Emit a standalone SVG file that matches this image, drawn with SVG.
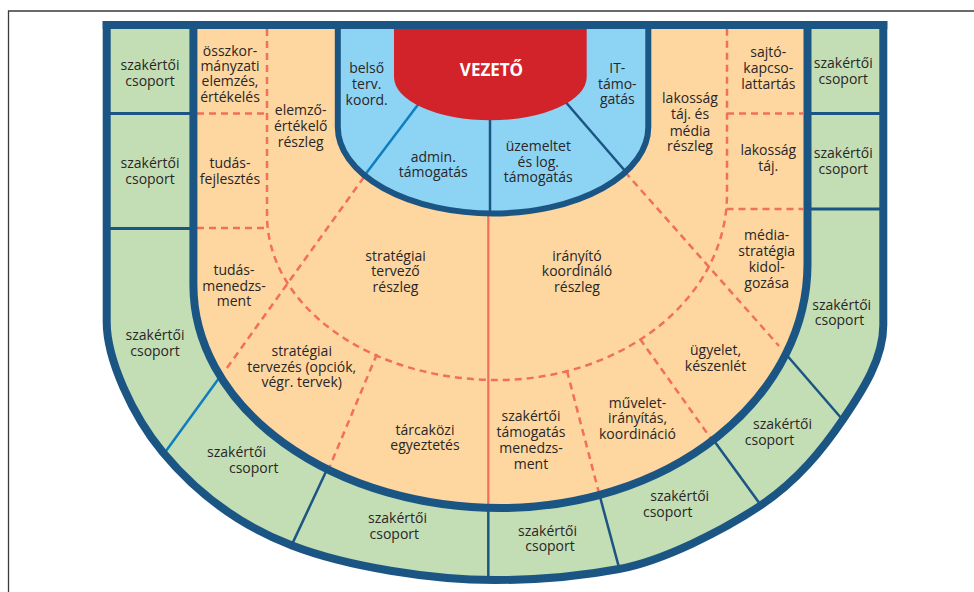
<svg xmlns="http://www.w3.org/2000/svg" width="974" height="592" viewBox="0 0 974 592">
<style>
.t{font-family:"Open Sans","Liberation Sans",sans-serif;font-size:14px;fill:#2a2627;text-anchor:middle}
.w{font-family:"Open Sans","Liberation Sans",sans-serif;font-size:17px;font-weight:700;fill:#ffffff;text-anchor:middle}
.dash{fill:none;stroke:#f26f5b;stroke-width:2.5;stroke-dasharray:7 5}
.solid{fill:none;stroke:#f26f5b;stroke-width:2.2}
.div{fill:none;stroke:#1b5584;stroke-width:2.5}
.hdiv{fill:none;stroke:#1b5584;stroke-width:3}
.ldiv{fill:none;stroke:#0e7dc2;stroke-width:2.5}
.band{fill:none;stroke:#1b5584}
</style>
<defs>
  <path id="outer" d="M106.7,25 H883.3 V325 C883.3,358 863.8,388.9 843.3,419 C822.8,449.1 797.9,480.5 760.5,505.5 C723.1,530.5 663.25,560.7 619,569 C574.75,577.3 536.3,580 495,580 C431.7,580 347.3,566.75 292,545.5 C236.7,524.25 193.9,489.75 163,452.5 C132.1,415.25 106.7,358.7 106.7,322 Z"/>
  <path id="inner" d="M193.4,25 H807.5 V264 A307,244 0 0 1 500.5,508 A307,223 0 0 1 193.4,285 Z"/>
</defs>

<!-- page frame -->
<path d="M8.5,592 V11 H974" fill="none" stroke="#3a3a3a" stroke-width="1.3"/>

<!-- outer ring of expert groups -->
<use href="#outer" fill="#c3deb4"/>

<g id="connectors">
  <!-- ring dividers -->
  <line class="hdiv" x1="106" y1="113.5" x2="194" y2="113.5"/>
  <line class="hdiv" x1="106" y1="228.5" x2="194" y2="228.5"/>
  <line class="hdiv" x1="807" y1="113.5" x2="884" y2="113.5"/>
  <line class="hdiv" x1="807" y1="209" x2="884" y2="209"/>
  <line class="ldiv" x1="221.8" y1="374.3" x2="164.9" y2="452.4"/>
  <line class="div" x1="328" y1="467.3" x2="292" y2="544.4"/>
  <line class="div" x1="488.3" y1="505" x2="488.3" y2="580"/>
  <line class="div" x1="599.2" y1="493.8" x2="619.1" y2="567.9"/>
  <line class="div" x1="714.2" y1="440.9" x2="760" y2="504.1"/>
  <line class="div" x1="784.7" y1="352.7" x2="842" y2="419"/>
</g>

<use href="#outer" class="band" stroke-width="8"/>

<!-- inner working area -->
<use href="#inner" fill="#fdd79f"/>

<g id="section-lines">
  <path class="dash" d="M267,29 V215 A230,165 0 0 0 497,380 A230,185.7 0 0 0 727,194.3 V29"/>
  <line class="dash" x1="197" y1="113.5" x2="267" y2="113.5"/>
  <line class="dash" x1="197" y1="228" x2="267" y2="228"/>
  <line class="dash" x1="727" y1="113.5" x2="803" y2="113.5"/>
  <line class="dash" x1="726.5" y1="209" x2="803" y2="209"/>
  <line class="dash" x1="364" y1="177" x2="224" y2="372"/>
  <line class="dash" x1="625" y1="172" x2="779" y2="346"/>
  <line class="dash" x1="377" y1="354" x2="330" y2="466"/>
  <line class="dash" x1="567" y1="371" x2="599" y2="493"/>
  <line class="dash" x1="640" y1="339" x2="712" y2="440"/>
  <line class="solid" x1="488.3" y1="214" x2="488.3" y2="506"/>
</g>

<use href="#inner" class="band" stroke-width="8"/>

<!-- support cup around the leader -->
<path id="cup-fill" d="M337.8,29 V127 A155.25,86.5 0 0 0 648.3,127 V29 Z" fill="#8dd4f4"/>
<line class="ldiv" x1="420" y1="102" x2="364.5" y2="175.5"/>
<line class="div" x1="490" y1="112" x2="490" y2="215"/>
<line class="div" x1="563" y1="99" x2="626" y2="172"/>
<path d="M337.8,25 V127 A155.25,86.5 0 0 0 648.3,127 V25" class="band" stroke-width="6"/>

<!-- top band -->
<rect x="102.7" y="21" width="784.6" height="8" fill="#1b5584"/>

<g id="vezeto">
  <path d="M394,29 V77 A96.35,43.3 0 0 0 586.7,77 V29 Z" fill="#d2232b"/>
  <text class="w" x="491.5" y="76">VEZETŐ</text>
</g>

<g id="belso-terv">
  <text class="t"><tspan x="366.7" y="72.7">belső</tspan><tspan x="366.7" y="88.7">terv.</tspan><tspan x="366.7" y="104.5">koord.</tspan></text>
</g>
<g id="it-tamogatas">
  <text class="t"><tspan x="617.3" y="72.7">IT-</tspan><tspan x="617.3" y="88.5">támo-</tspan><tspan x="617.3" y="104.3">gatás</tspan></text>
</g>
<g id="admin">
  <text class="t"><tspan x="433.3" y="161.7">admin.</tspan><tspan x="433.3" y="177.3">támogatás</tspan></text>
</g>
<g id="uzemeltetes">
  <text class="t"><tspan x="538.3" y="150.7">üzemeltet</tspan><tspan x="538.3" y="166.7">és log.</tspan><tspan x="538.3" y="182.3">támogatás</tspan></text>
</g>

<g id="osszkormanyzati">
  <text class="t"><tspan x="230" y="55.7">összkor-</tspan><tspan x="230" y="70.7">mányzati</tspan><tspan x="230" y="86.2">elemzés,</tspan><tspan x="230" y="101.5">értékelés</tspan></text>
</g>
<g id="elemzo">
  <text class="t"><tspan x="300.7" y="115">elemző-</tspan><tspan x="300.7" y="131">értékelő</tspan><tspan x="300.7" y="146.7">részleg</tspan></text>
</g>
<g id="tudasfejlesztes">
  <text class="t"><tspan x="230" y="168.3">tudás-</tspan><tspan x="230" y="184.3">fejlesztés</tspan></text>
</g>
<g id="tudasmenedzsment">
  <text class="t"><tspan x="234" y="275">tudás-</tspan><tspan x="234" y="290.5">menedzs-</tspan><tspan x="234" y="305.7">ment</tspan></text>
</g>
<g id="strategiai-tervezes">
  <text class="t"><tspan x="301.7" y="356">stratégiai</tspan><tspan x="301.7" y="371.7">tervezés (opciók,</tspan><tspan x="301.7" y="387.3">végr. tervek)</tspan></text>
</g>
<g id="strategiai-reszleg">
  <text class="t"><tspan x="395.5" y="260.7">stratégiai</tspan><tspan x="395.5" y="276.3">tervező</tspan><tspan x="395.5" y="292.3">részleg</tspan></text>
</g>
<g id="iranyito-reszleg">
  <text class="t"><tspan x="577" y="260.7">irányító</tspan><tspan x="577" y="276.3">koordináló</tspan><tspan x="577" y="292.3">részleg</tspan></text>
</g>
<g id="tarcakozi">
  <text class="t"><tspan x="425" y="434.7">tárcaközi</tspan><tspan x="425" y="450.3">egyeztetés</tspan></text>
</g>
<g id="szakertoi-tamogatas">
  <text class="t"><tspan x="531" y="421">szakértői</tspan><tspan x="531" y="437.3">támogatás</tspan><tspan x="531" y="453.3">menedzs-</tspan><tspan x="531" y="469.3">ment</tspan></text>
</g>
<g id="muveletiranyitas">
  <text class="t"><tspan x="637.5" y="407.7">művelet-</tspan><tspan x="637.5" y="423.3">irányítás,</tspan><tspan x="637.5" y="439">koordináció</tspan></text>
</g>
<g id="ugyelet">
  <text class="t"><tspan x="715.5" y="355">ügyelet,</tspan><tspan x="715.5" y="370.5">készenlét</tspan></text>
</g>
<g id="mediastrategia">
  <text class="t"><tspan x="766.7" y="240">média-</tspan><tspan x="766.7" y="256">stratégia</tspan><tspan x="766.7" y="272.3">kidol-</tspan><tspan x="766.7" y="288.3">gozása</tspan></text>
</g>
<g id="lakossag-media">
  <text class="t"><tspan x="690" y="103.3">lakosság</tspan><tspan x="690" y="119.3">táj. és</tspan><tspan x="690" y="135.7">média</tspan><tspan x="690" y="151">részleg</tspan></text>
</g>
<g id="sajtokapcsolat">
  <text class="t"><tspan x="768.3" y="57.3">sajtó-</tspan><tspan x="768.3" y="73.3">kapcso-</tspan><tspan x="768.3" y="89.3">lattartás</tspan></text>
</g>
<g id="lakossag-taj">
  <text class="t"><tspan x="768.3" y="155">lakosság</tspan><tspan x="768.3" y="170.7">táj.</tspan></text>
</g>

<!-- expert groups -->
<g id="csoport-1"><text class="t"><tspan x="150" y="70">szakértői</tspan><tspan x="150" y="86">csoport</tspan></text></g>
<g id="csoport-2"><text class="t"><tspan x="150" y="167.5">szakértői</tspan><tspan x="150" y="183.5">csoport</tspan></text></g>
<g id="csoport-3"><text class="t"><tspan x="155" y="340">szakértői</tspan><tspan x="155" y="356">csoport</tspan></text></g>
<g id="csoport-4"><text class="t"><tspan x="236.5" y="456.5">szakértői</tspan><tspan x="253.7" y="472.5">csoport</tspan></text></g>
<g id="csoport-5"><text class="t"><tspan x="397.5" y="522.5">szakértői</tspan><tspan x="394.3" y="538.5">csoport</tspan></text></g>
<g id="csoport-6"><text class="t"><tspan x="547.5" y="536">szakértői</tspan><tspan x="550" y="551">csoport</tspan></text></g>
<g id="csoport-7"><text class="t"><tspan x="679.7" y="501">szakértői</tspan><tspan x="667.7" y="516.5">csoport</tspan></text></g>
<g id="csoport-8"><text class="t"><tspan x="782.5" y="429">szakértői</tspan><tspan x="769.5" y="444.5">csoport</tspan></text></g>
<g id="csoport-9"><text class="t"><tspan x="841.7" y="310">szakértői</tspan><tspan x="839.5" y="325">csoport</tspan></text></g>
<g id="csoport-10"><text class="t"><tspan x="843.3" y="67.5">szakértői</tspan><tspan x="843.3" y="83.5">csoport</tspan></text></g>
<g id="csoport-11"><text class="t"><tspan x="843.3" y="157.5">szakértői</tspan><tspan x="843.3" y="173.5">csoport</tspan></text></g>
</svg>
